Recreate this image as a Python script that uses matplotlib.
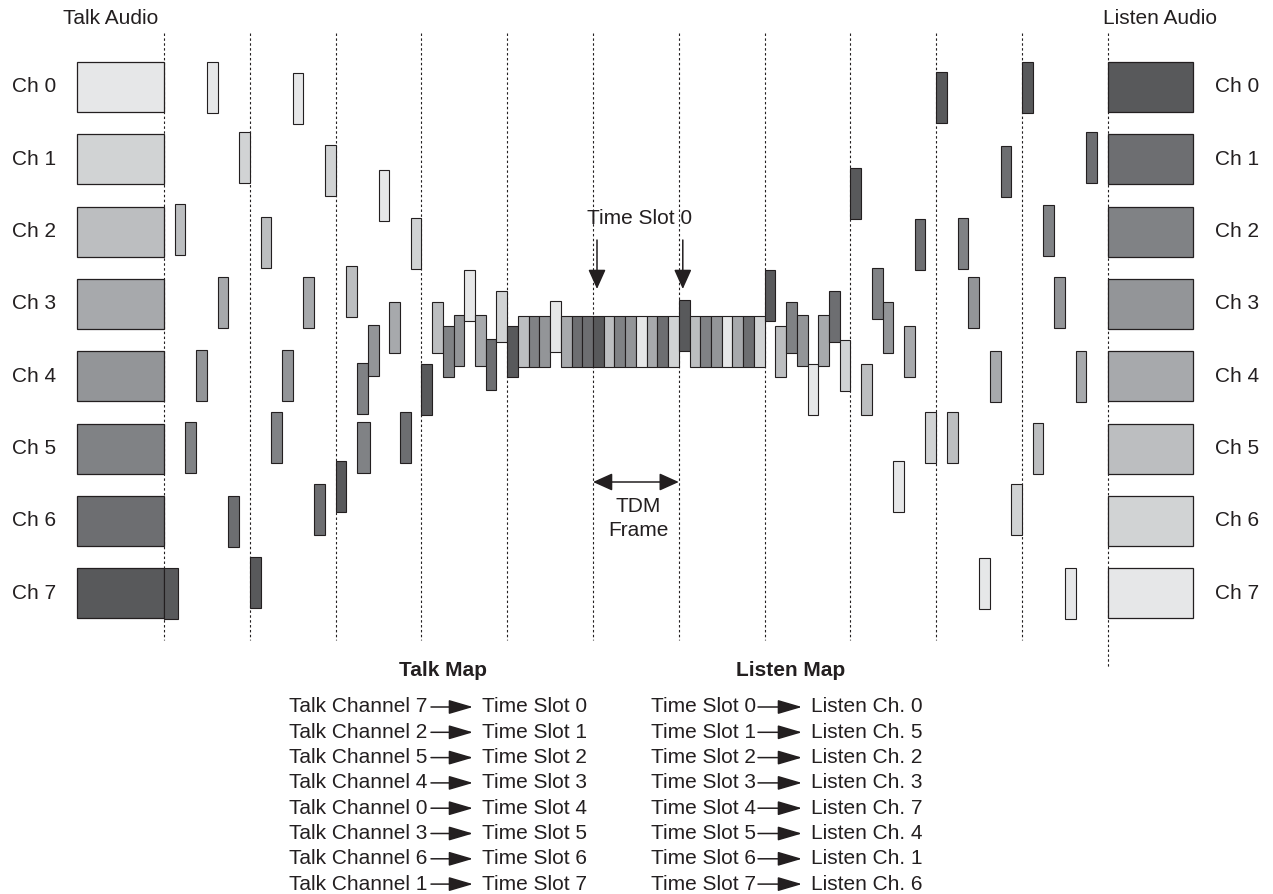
import matplotlib
matplotlib.use('Agg')
import matplotlib.pyplot as plt
from matplotlib.patches import Rectangle

plt.rcParams['font.family'] = ['Liberation Sans', 'DejaVu Sans']

# ---------------- data ----------------
channel_labels = ['Ch 0', 'Ch 1', 'Ch 2', 'Ch 3', 'Ch 4', 'Ch 5', 'Ch 6', 'Ch 7']
channel_gray = ['#e6e7e8', '#d1d3d4', '#bcbec0', '#a7a9ac',
                '#939598', '#808285', '#6d6e71', '#58595b']
listen_gray = channel_gray[::-1]
slot_talk_channel = [7, 2, 5, 4, 0, 3, 6, 1]     # talk channel carried by time slot
slot_listen_channel = [0, 5, 2, 3, 7, 4, 1, 6]   # listen channel fed by time slot

# top (pixel row) of each sample bar, per frame and per slot (None = not drawn)
frame_sample_top = [
    [568, 204, 422, 350, 62, 277, 496, 132],
    [557, 217, 412, 350, 73, 277, 484, 145],
    [461, 266, 363, 325, 170, 302, 412, 218],
    [364, 302, 326, 315, 270, 315, 339, 291],
    [326, 316, 316, 316, 301, 316, 316, 316],
    [316, 316, 316, 316, 316, 316, 316, 316],
    [300, 316, 316, 316, 316, 316, 316, 316],
    [270, 326, 302, 315, 364, 315, 291, 340],
    [168, 364, 268, 302, 461, 326, 219, 412],
    [72, 412, 218, 277, 558, 351, 146, 484],
    [62, 423, 205, 277, 568, 351, 132, None],
]
extra_samples = [(2, 2, 422)]          # (frame, slot, top) duplicate bar in drawing
color_override = {(4, 7): '#6d6e71'}

talk_map_left = ['Talk Channel 7', 'Talk Channel 2', 'Talk Channel 5', 'Talk Channel 4',
                 'Talk Channel 0', 'Talk Channel 3', 'Talk Channel 6', 'Talk Channel 1']
talk_map_right = [f'Time Slot {i}' for i in range(8)]
listen_map_left = [f'Time Slot {i}' for i in range(8)]
listen_map_right = ['Listen Ch. 0', 'Listen Ch. 5', 'Listen Ch. 2', 'Listen Ch. 3',
                    'Listen Ch. 7', 'Listen Ch. 4', 'Listen Ch. 1', 'Listen Ch. 6']

# ---------------- layout ----------------
W, H = 1273, 894
fig = plt.figure(figsize=(W / 100, H / 100), dpi=100)
ax = fig.add_axes([0, 0, 1, 1])
ax.set_xlim(0, W)
ax.set_ylim(H, 0)
ax.axis('off')

EDGE = '#231f20'
FS = 15
row_top0, row_pitch, box_h = 62, 72.3, 50
frame_x0, frame_w = 164, 85.8
slot_w = frame_w / 8
bar_h = 51

# dashed frame lines
for k in range(12):
    x = frame_x0 + k * frame_w
    y_end = 668 if k == 11 else 640
    ax.plot([x, x], [33, y_end], color=EDGE, lw=0.8, ls=(0, (2.2, 2.2)), zorder=1)

# big channel boxes
for i, lab in enumerate(channel_labels):
    top = row_top0 + i * row_pitch
    ax.add_patch(Rectangle((77, top), 164 - 77, box_h, facecolor=channel_gray[i],
                           edgecolor=EDGE, lw=0.9, zorder=3))
    ax.add_patch(Rectangle((1108, top), 1193 - 1108, box_h, facecolor=listen_gray[i],
                           edgecolor=EDGE, lw=0.9, zorder=3))
    ax.text(12, top + box_h / 2, lab, fontsize=FS, va='center', ha='left', color='#231f20')
    ax.text(1215, top + box_h / 2, lab, fontsize=FS, va='center', ha='left', color='#231f20')

ax.text(111, 19, 'Talk Audio', fontsize=FS, ha='center', va='center', color='#231f20')
ax.text(1160, 19, 'Listen Audio', fontsize=FS, ha='center', va='center', color='#231f20')

# sample bars
def draw_bar(frame, slot, top, width=slot_w):
    x = frame_x0 + frame * frame_w + slot * slot_w
    col = color_override.get((frame, slot), channel_gray[slot_talk_channel[slot]])
    ax.add_patch(Rectangle((x, top), width, bar_h, facecolor=col,
                           edgecolor=EDGE, lw=0.8, zorder=4))

for f, tops in enumerate(frame_sample_top):
    for s, top in enumerate(tops):
        if top is None:
            continue
        w = 14 if (f == 0 and s == 0) else slot_w
        draw_bar(f, s, top, w)
for f, s, top in extra_samples:
    draw_bar(f, s, top, 13)

# Time Slot 0 annotation
ax.text(640, 218, 'Time Slot 0', fontsize=FS, ha='center', va='center', color='#231f20')
for k in (5, 6):
    x = frame_x0 + k * frame_w + 4
    ax.annotate('', xy=(x, 289), xytext=(x, 240),
                arrowprops=dict(arrowstyle='-|>,head_length=0.6,head_width=0.27',
                                color=EDGE, lw=1.1, mutation_scale=20,
                                shrinkA=0, shrinkB=0), zorder=5)

# TDM frame annotation
ax.annotate('', xy=(frame_x0 + 6 * frame_w, 482), xytext=(frame_x0 + 5 * frame_w, 482),
            arrowprops=dict(arrowstyle='<|-|>,head_length=0.6,head_width=0.27',
                            color=EDGE, lw=1.1, mutation_scale=20,
                            shrinkA=0, shrinkB=0), zorder=5)
ax.text(638, 506, 'TDM', fontsize=FS, ha='center', va='center', color='#231f20')
ax.text(638, 530, 'Frame', fontsize=FS, ha='center', va='center', color='#231f20')

# maps
ax.text(443, 671, 'Talk Map', fontsize=FS, fontweight='bold', ha='center', va='center',
        color='#231f20')
ax.text(791, 671, 'Listen Map', fontsize=FS, fontweight='bold', ha='center', va='center',
        color='#231f20')

map_y0, map_pitch = 707, 25.3
def map_arrow(x0, x1, y):
    ax.annotate('', xy=(x1, y), xytext=(x0, y),
                arrowprops=dict(arrowstyle='-|>,head_length=0.75,head_width=0.22',
                                color=EDGE, lw=1.1, mutation_scale=20,
                                shrinkA=0, shrinkB=0))

for i in range(8):
    y = map_y0 + i * map_pitch
    ax.text(289, y, talk_map_left[i], fontsize=FS, ha='left', va='center', color='#231f20')
    map_arrow(431, 473, y)
    ax.text(482, y, talk_map_right[i], fontsize=FS, ha='left', va='center', color='#231f20')
    ax.text(651, y, listen_map_left[i], fontsize=FS, ha='left', va='center', color='#231f20')
    map_arrow(758, 802, y)
    ax.text(811, y, listen_map_right[i], fontsize=FS, ha='left', va='center', color='#231f20')

fig.savefig('out.png', dpi=100, facecolor='white')
